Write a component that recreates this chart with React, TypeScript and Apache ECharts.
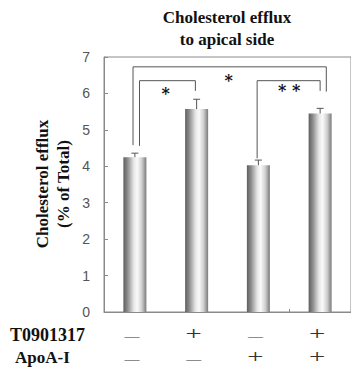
import React, { useEffect, useRef } from 'react';
import * as echarts from 'echarts';

const categories = ['Control', 'T0901317', 'ApoA-I', 'T0901317 + ApoA-I'];
const t0901317Signs = ['—', '+', '—', '+'];
const apoA1Signs = ['—', '—', '+', '+'];
const efflux = [4.25, 5.57, 4.03, 5.45];
const errors = [0.11, 0.27, 0.14, 0.14];
const yTickLabels = ['0', '1', '2', '3', '4', '5', '6', '7'];
// significance brackets: [xLeft, xRight, yLeftEnd, yTop, yRightEnd]; x in category units (0 = first bar)
const brackets = [
  [-0.03, 3.1, 4.58, 6.73, 6.05],
  [0.075, 0.98, 4.56, 6.35, 6.07],
  [1.98, 3.0, 4.22, 6.35, 6.07],
];
// significance marks for each bracket: [x (category units), y value, text]
const stars: [number, number, string][] = [
  [1.52, 6.46, '*'],
  [0.5, 6.11, '*'],
  [2.5, 6.18, '* *'],
];

const SERIF = '"Liberation Serif", "DejaVu Serif", serif';
const SANS = '"Liberation Sans", Arial, sans-serif';

export default function App() {
  const ref = useRef<HTMLDivElement>(null);
  useEffect(() => {
    if (!ref.current) return;
    const chart = echarts.init(ref.current, null, { renderer: 'svg' });
    const barGradient = new echarts.graphic.LinearGradient(0, 0, 1, 0, [
      { offset: 0, color: '#5e5e5e' },
      { offset: 0.18, color: '#8c8c8c' },
      { offset: 0.45, color: '#e6e6e6' },
      { offset: 0.6, color: '#fafafa' },
      { offset: 0.8, color: '#d0d0d0' },
      { offset: 1, color: '#7a7a7a' },
    ]);
    const signText = (s: string, x: number, y: number) =>
      s === '+'
        ? {
            type: 'text',
            x,
            y: y - 1.5,
            scaleX: 1.6,
            style: {
              text: s,
              align: 'center',
              verticalAlign: 'middle',
              font: `18px ${SERIF}`,
              fill: '#333',
            },
          }
        : {
            type: 'text',
            x,
            y,
            style: {
              text: s,
              align: 'center',
              verticalAlign: 'middle',
              font: `15px ${SERIF}`,
              fill: '#333',
            },
          };
    chart.setOption({
      animation: false,
      backgroundColor: '#ffffff',
      grid: {
        left: 104,
        top: 57,
        width: 254,
        height: 255,
        show: true,
        borderColor: '#8a8a8a',
        borderWidth: 1,
        containLabel: false,
      },
      graphic: [
        {
          type: 'text',
          style: {
            text: 'Cholesterol efflux\nto apical side',
            x: 227,
            y: 6,
            align: 'center',
            verticalAlign: 'top',
            font: `bold 17px ${SERIF}`,
            lineHeight: 22,
            fill: '#111',
          },
        },
        {
          type: 'text',
          x: 52.5,
          y: 184,
          rotation: Math.PI / 2,
          style: {
            text: 'Cholesterol efflux\n(% of Total)',
            align: 'center',
            verticalAlign: 'middle',
            font: `bold 17px ${SERIF}`,
            lineHeight: 21,
            fill: '#111',
          },
        },
        {
          type: 'text',
          style: {
            text: 'T0901317',
            x: 10,
            y: 335,
            verticalAlign: 'middle',
            font: `bold 18px ${SERIF}`,
            fill: '#111',
          },
        },
        {
          type: 'text',
          style: {
            text: 'ApoA-I',
            x: 15,
            y: 357,
            verticalAlign: 'middle',
            font: `bold 17px ${SERIF}`,
            fill: '#111',
          },
        },
      ],
      xAxis: {
        type: 'category',
        data: categories,
        axisLine: { lineStyle: { color: '#8a8a8a', width: 1 } },
        axisTick: { show: true, inside: true, length: 3, lineStyle: { color: '#8a8a8a' } },
        axisLabel: { show: false },
        splitLine: { show: false },
      },
      yAxis: {
        type: 'value',
        min: 0,
        max: 7,
        interval: 1,
        axisLine: { show: true, lineStyle: { color: '#8a8a8a', width: 1 } },
        axisTick: { show: true, inside: true, length: 4, lineStyle: { color: '#8a8a8a' } },
        axisLabel: {
          margin: 14,
          fontFamily: SANS,
          fontSize: 14,
          color: '#555',
          formatter: (v: number) => yTickLabels[Math.round(v)] ?? String(v),
        },
        splitLine: { show: false },
      },
      series: [
        {
          type: 'bar',
          data: efflux,
          barWidth: 23,
          itemStyle: { color: barGradient },
          z: 2,
        },
        {
          type: 'custom',
          z: 3,
          clip: false,
          itemStyle: { color: '#555' },
          data: efflux.map((v, i) => [i, v, errors[i]]),
          renderItem: (params: any, api: any) => {
            const i = api.value(0);
            const v = api.value(1);
            const e = api.value(2);
            const p0 = api.coord([i, v]);
            const p1 = api.coord([i, v + e]);
            const style = { stroke: '#555', lineWidth: 1 };
            return {
              type: 'group',
              children: [
                { type: 'line', shape: { x1: p0[0], y1: p0[1], x2: p1[0], y2: p1[1] }, style },
                { type: 'line', shape: { x1: p1[0] - 3.5, y1: p1[1], x2: p1[0] + 3.5, y2: p1[1] }, style },
              ],
            };
          },
        },
        {
          type: 'custom',
          z: 4,
          clip: false,
          itemStyle: { color: '#222' },
          data: brackets.map((b) => [0, b[3]]),
          renderItem: (params: any, api: any) => {
            const b = brackets[params.dataIndex];
            const s = stars[params.dataIndex];
            const x0 = api.coord([0, 0])[0];
            const bw = api.size([1, 0])[0];
            const xl = x0 + b[0] * bw;
            const xr = x0 + b[1] * bw;
            const y = (val: number) => api.coord([0, val])[1];
            return {
              type: 'group',
              children: [
                {
                  type: 'polyline',
                  shape: {
                    points: [
                      [xl, y(b[2])],
                      [xl, y(b[3])],
                      [xr, y(b[3])],
                      [xr, y(b[4])],
                    ],
                  },
                  style: { stroke: '#555', lineWidth: 1, fill: 'none' },
                },
                {
                  type: 'text',
                  x: x0 + s[0] * bw,
                  y: y(s[1]) + 4,
                  style: {
                    text: s[2],
                    align: 'center',
                    verticalAlign: 'middle',
                    font: `bold 16px "DejaVu Serif", serif`,
                    fill: '#111',
                  },
                },
              ],
            };
          },
        },
        {
          type: 'custom',
          z: 4,
          clip: false,
          itemStyle: { color: '#333' },
          data: categories.map((_, i) => [i, 0]),
          renderItem: (params: any, api: any) => {
            const i = params.dataIndex;
            const p = api.coord([i, 0]);
            return {
              type: 'group',
              children: [
                signText(t0901317Signs[i], p[0] - 3, p[1] + 24),
                signText(apoA1Signs[i], p[0] - 3, p[1] + 47),
              ],
            };
          },
        },
      ],
    });
    return () => chart.dispose();
  }, []);
  return <div ref={ref} style={{ width: 351, height: 368, position: 'absolute', left: 0, top: 0 }} />;
}
